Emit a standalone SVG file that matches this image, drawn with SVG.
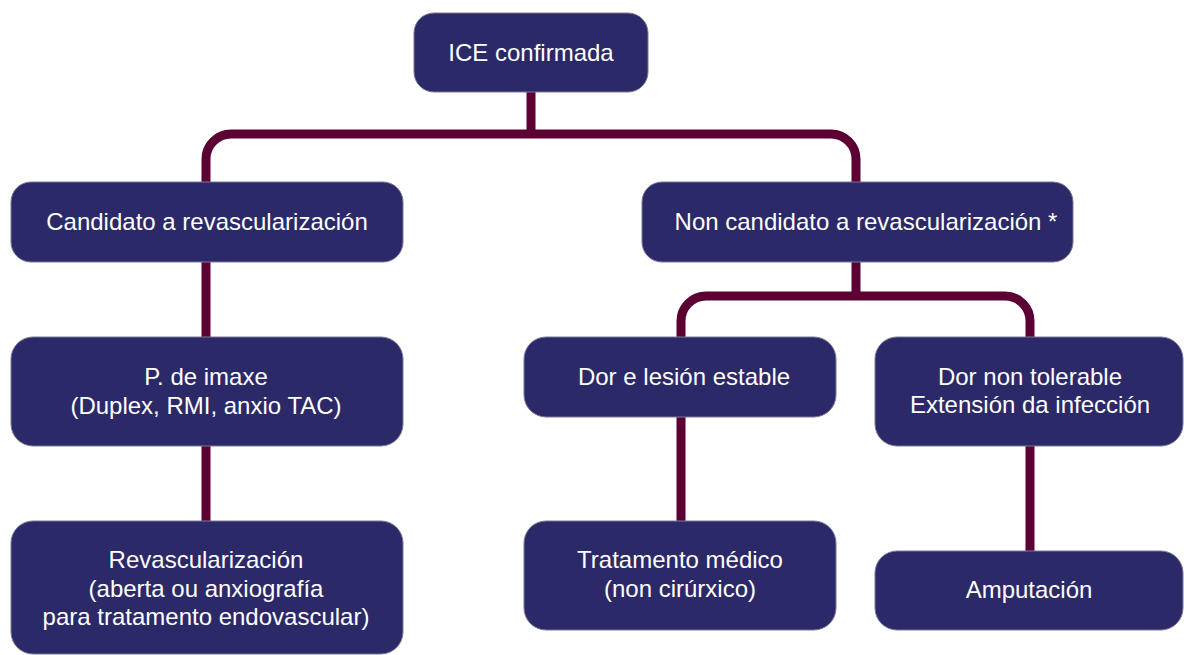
<svg xmlns="http://www.w3.org/2000/svg" width="1184" height="655" viewBox="0 0 1184 655">
<style>
.box{fill:#2b2968;stroke:#7a799a;stroke-width:1}
.t{font-family:"Liberation Sans",Arial,sans-serif;font-size:24px;fill:#ffffff;text-anchor:middle}
.c{fill:none;stroke:#5c0034;stroke-width:9}
</style>
<rect width="1184" height="655" fill="#ffffff"/>
<g id="connectors">
<path class="c" d="M531 92 V134"/>
<path class="c" d="M206 182 V159 A25 25 0 0 1 231 134 H831 A25 25 0 0 1 856 159 V182"/>
<path class="c" d="M206 262 V337"/>
<path class="c" d="M206 446 V521"/>
<path class="c" d="M856 262 V296"/>
<path class="c" d="M681 337 V321 A25 25 0 0 1 706 296 H1005 A25 25 0 0 1 1030 321 V337"/>
<path class="c" d="M681 417 V521"/>
<path class="c" d="M1030 446 V551"/>
</g>
<g id="n-ice"><rect class="box" x="414" y="13" width="234" height="79" rx="20"/><text class="t" x="531" y="61">ICE confirmada</text></g>
<g id="n-candidato"><rect class="box" x="11" y="182" width="392" height="80" rx="20"/><text class="t" x="207" y="230">Candidato a revascularización</text></g>
<g id="n-noncandidato"><rect class="box" x="642" y="182" width="431" height="80" rx="20"/><text class="t" x="866" y="230">Non candidato a revascularización *</text></g>
<g id="n-imaxe"><rect class="box" x="11" y="337" width="392" height="109" rx="22"/><text class="t" x="206" y="385">P. de imaxe</text><text class="t" x="206" y="414">(Duplex, RMI, anxio TAC)</text></g>
<g id="n-revasc"><rect class="box" x="11" y="521" width="392" height="133" rx="22"/><text class="t" x="206" y="568">Revascularización</text><text class="t" x="206" y="597">(aberta ou anxiografía</text><text class="t" x="206" y="625">para tratamento endovascular)</text></g>
<g id="n-dor"><rect class="box" x="524" y="337" width="312" height="80" rx="22"/><text class="t" x="684" y="385">Dor e lesión estable</text></g>
<g id="n-dornon"><rect class="box" x="875" y="337" width="308" height="109" rx="22"/><text class="t" x="1030" y="385">Dor non tolerable</text><text class="t" x="1030" y="413">Extensión da infección</text></g>
<g id="n-tratamento"><rect class="box" x="524" y="521" width="312" height="109" rx="22"/><text class="t" x="680" y="568">Tratamento médico</text><text class="t" x="680" y="597">(non cirúrxico)</text></g>
<g id="n-amputacion"><rect class="box" x="875" y="551" width="308" height="79" rx="22"/><text class="t" x="1029" y="598">Amputación</text></g>
</svg>
